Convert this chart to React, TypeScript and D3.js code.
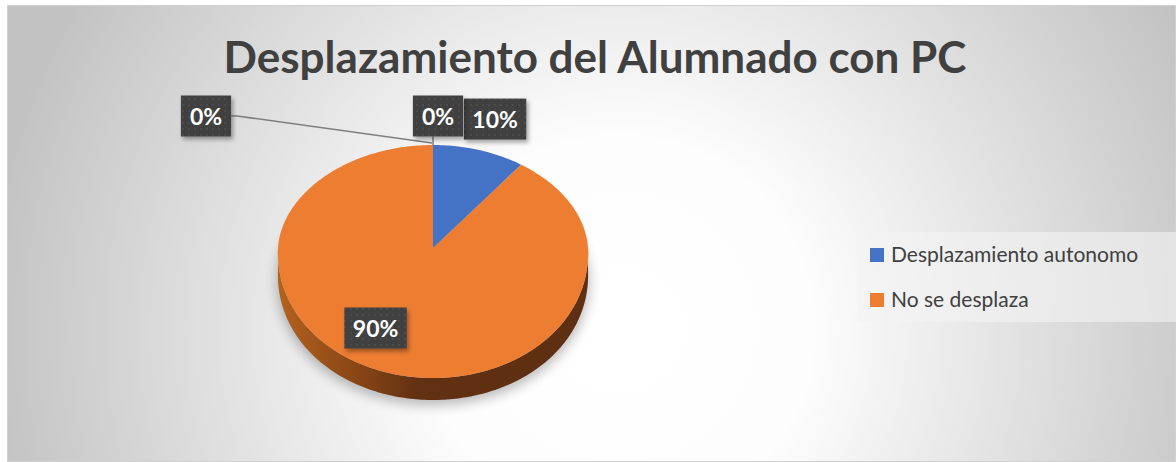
import React from 'react';
import * as d3 from 'd3';

const title = "Desplazamiento del Alumnado con PC";
const categories = ["Desplazamiento autonomo", "No se desplaza", "", ""];
const values = [10, 90, 0, 0];
const valueLabels = ["10%", "90%", "0%", "0%"];
const legendItems = ["Desplazamiento autonomo", "No se desplaza"];
const colors = ["#4472C4", "#ED7D31", "#A5A5A5", "#FFC000"];

const W = 1176, H = 462;
const CX = 433, CY = 248, RX = 155, RYB = 103, RYF = 130, TH = 22, K = 0.04;

function proj(theta: number, r = 1, h = 0): [number, number] {
  const u = Math.sin(theta) * r, v = -Math.cos(theta) * r;
  const x = CX + RX * u * (1 + K * v);
  const y = CY + (v < 0 ? RYB : RYF) * v + h * TH;
  return [x, y];
}

function arcPts(a0: number, a1: number, h = 0, r = 1): [number, number][] {
  const n = Math.max(2, Math.ceil(Math.abs(a1 - a0) / (Math.PI / 180)));
  const pts: [number, number][] = [];
  for (let i = 0; i <= n; i++) pts.push(proj(a0 + (a1 - a0) * i / n, r, h));
  return pts;
}

// label layout offsets (relative to projected anchors)
const labelLayout = [
  { r: 1, dx: 16, dy: -31 },
  { r: 0.72, dx: -22, dy: -9 },
  { r: 1, dx: 5, dy: -29 },
  { r: 1, dx: -227, dy: -29 },
];

export default function App() {
  const pie = d3.pie<number>().sort(null).value(d => d);
  const arcs = pie(values);
  const line = d3.line();

  const slices = arcs.map((a, i) => {
    if (a.endAngle - a.startAngle <= 0) return null;
    const pts = [[CX, CY] as [number, number], ...arcPts(a.startAngle, a.endAngle)];
    return <path key={i} d={line(pts)! + 'Z'} fill={colors[i]} />;
  });

  const sides = arcs.map((a, i) => {
    const s = Math.max(a.startAngle, Math.PI / 2), e = Math.min(a.endAngle, 3 * Math.PI / 2);
    if (e <= s) return null;
    const pts = [...arcPts(s, e, 0), ...arcPts(e, s, 1)];
    return <path key={i} d={line(pts)! + 'Z'} fill={`url(#side${i})`} />;
  });

  const shadowPts = arcPts(0, 2 * Math.PI, 1.2, 1.01);

  const charW = (t: string) => t.split('').reduce((s, c) => s + (c === '%' ? 18 : 12.2), 0);

  const labels = arcs.map((a, i) => {
    const L = labelLayout[i];
    const mid = a.value === 0 ? a.startAngle : (a.startAngle + a.endAngle) / 2;
    const [ax, ay] = proj(mid, L.r);
    const cx = ax + L.dx, cy = ay + L.dy;
    const t = valueLabels[i];
    const bw = charW(t) + 20, bh = 41;
    return { i, ax, ay, cx, cy, bw, bh, t };
  });

  const farLabel = labels[3];
  const nearZero = labels[2];

  return (
    <svg width={W} height={H} style={{ position: 'absolute', left: 0, top: 0 }} xmlns="http://www.w3.org/2000/svg">
      <defs>
        <radialGradient id="bg" gradientUnits="userSpaceOnUse" cx={620} cy={330} r={640}>
          <stop offset="0" stopColor="#ffffff" />
          <stop offset="0.3" stopColor="#fdfdfd" />
          <stop offset="1" stopColor="#c2c2c2" />
        </radialGradient>
        <linearGradient id="side1" gradientUnits="userSpaceOnUse" x1={CX - RX} x2={CX + RX} y1={0} y2={0}>
          <stop offset="0" stopColor="#b3621f" />
          <stop offset="0.25" stopColor="#8a4616" />
          <stop offset="0.45" stopColor="#623012" />
          <stop offset="1" stopColor="#5e2f12" />
        </linearGradient>
        <linearGradient id="side0" x1="0" x2="1" y1="0" y2="0">
          <stop offset="0" stopColor="#2f5597" />
          <stop offset="1" stopColor="#203864" />
        </linearGradient>
        <linearGradient id="side2" x1="0" x2="1"><stop offset="0" stopColor="#7f7f7f" /><stop offset="1" stopColor="#595959" /></linearGradient>
        <linearGradient id="side3" x1="0" x2="1"><stop offset="0" stopColor="#bf9000" /><stop offset="1" stopColor="#7f6000" /></linearGradient>
        <filter id="blur" x="-20%" y="-20%" width="140%" height="140%">
          <feGaussianBlur stdDeviation="6" />
        </filter>
        <filter id="boxShadow" x="-30%" y="-30%" width="160%" height="160%">
          <feDropShadow dx="2" dy="3" stdDeviation="2" floodColor="#000" floodOpacity="0.35" />
        </filter>
        <pattern id="dots" width="6" height="6" patternUnits="userSpaceOnUse">
          <rect width="6" height="6" fill="#404040" />
          <circle cx="3" cy="3" r="0.8" fill="#5c5c5c" />
        </pattern>
      </defs>

      <rect x={0} y={0} width={W} height={H} fill="#ffffff" />
      <rect x={7.5} y={5.5} width={W - 8} height={H - 6} fill="url(#bg)" stroke="#d0d0d0" strokeWidth={1} />

      <text x={595} y={73} textAnchor="middle" fontFamily="Lato, 'Open Sans', sans-serif" fontWeight="bold" fontSize={44} fill="#404040">{title}</text>

      {/* pie shadow */}
      <path d={line(shadowPts)! + 'Z'} fill="#000" opacity={0.25} filter="url(#blur)" />

      {/* side walls */}
      {sides}
      {/* top face */}
      {slices}

      {/* leader lines */}
      <polyline points={`${farLabel.cx + farLabel.bw / 2},${farLabel.cy} ${farLabel.cx + farLabel.bw / 2 + 6},${farLabel.cy} ${farLabel.ax - 1},${farLabel.ay - 2}`} fill="none" stroke="#7f7f7f" strokeWidth={1.5} />
      <line x1={nearZero.ax} x2={nearZero.ax} y1={nearZero.cy + nearZero.bh / 2} y2={nearZero.ay} stroke="#7f7f7f" strokeWidth={1.5} />

      {labels.map(l => (
        <g key={l.i}>
          <rect x={l.cx - l.bw / 2} y={l.cy - l.bh / 2} width={l.bw} height={l.bh} fill="url(#dots)" filter="url(#boxShadow)" />
          <text x={l.cx} y={l.cy + 8.5} textAnchor="middle" fontFamily="Lato, 'Open Sans', sans-serif" fontWeight="bold" fontSize={23} fill="#ffffff">{l.t}</text>
        </g>
      ))}

      {/* legend */}
      <rect x={857} y={232} width={W - 857} height={90} fill="#f4f4f4" opacity={0.6} />
      {legendItems.map((name, i) => (
        <g key={name} transform={`translate(870, ${248 + i * 45})`}>
          <rect x={0} y={0} width={14} height={14} fill={colors[categories.indexOf(name)]} />
          <text x={21} y={14} fontFamily="Lato, 'Open Sans', sans-serif" fontSize={21} fill="#404040">{name}</text>
        </g>
      ))}
    </svg>
  );
}
